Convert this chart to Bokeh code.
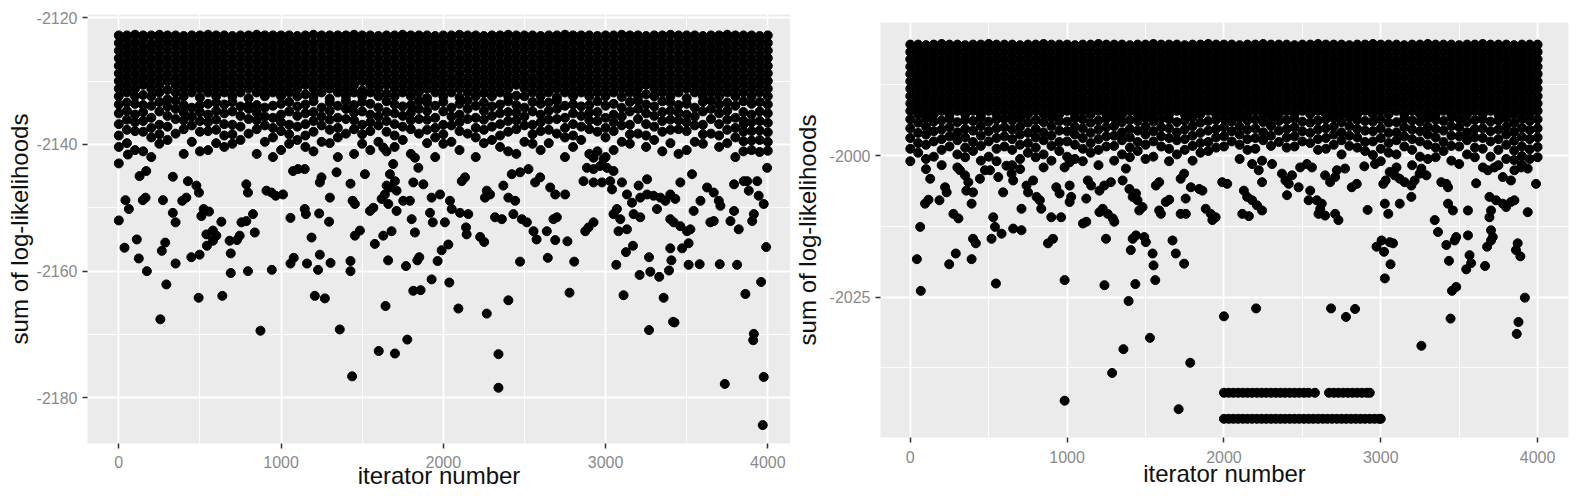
from bokeh.plotting import figure
from bokeh.layouts import row
from bokeh.models import FixedTicker, Range1d
from bokeh.embed import file_html
from bokeh.resources import INLINE

# ---------------- axes ----------------
x_ticks = [0, 1000, 2000, 3000, 4000]
x_minor = [500, 1500, 2500, 3500]
left_y_ticks = [-2180, -2160, -2140, -2120]
left_y_minor = [-2170, -2150, -2130]
right_y_ticks = [-2025, -2000]
right_y_minor = [-2037.5, -2012.5, -1987.5]

# ---------------- data: left chart (dense band, per iteration column) ----------------
left_band_q1 = {
    0: [-2122.8,-2124.0,-2125.2,-2126.4,-2127.6,-2128.8,-2130.0,-2131.2,-2132.4,-2133.7,-2135.1,-2136.8,-2138.6,-2140.4],
    50: [-2122.8,-2123.4,-2124.6,-2125.8,-2127.0,-2128.2,-2129.4,-2130.6,-2131.8,-2133.4,-2134.7,-2136.1,-2137.7,-2139.8],
    100: [-2122.7,-2124.0,-2125.2,-2126.4,-2127.6,-2128.8,-2130.0,-2131.2,-2132.4,-2133.6,-2135.3,-2136.5,-2137.9,-2140.9],
    150: [-2122.8,-2123.4,-2124.6,-2125.8,-2127.0,-2128.2,-2129.4,-2130.6,-2132.2,-2133.8,-2134.9,-2136.3,-2138.0,-2141.1],
    200: [-2122.8,-2124.1,-2125.2,-2126.4,-2127.6,-2128.8,-2130.0,-2131.2,-2132.4,-2133.9,-2135.8,-2137.4,-2138.9,-2142.0],
    250: [-2122.7,-2123.4,-2124.6,-2125.8,-2127.0,-2128.2,-2129.4,-2130.6,-2131.8,-2133.3,-2134.8,-2136.9,-2138.4,-2139.9],
    300: [-2122.8,-2124.0,-2125.2,-2126.4,-2127.6,-2128.8,-2130.0,-2131.4,-2132.9,-2134.0,-2135.5,-2137.2,-2139.3],
    350: [-2122.8,-2123.4,-2124.6,-2125.8,-2127.0,-2128.2,-2129.4,-2130.6,-2131.8,-2133.1,-2134.4,-2136.0,-2138.3],
    400: [-2122.9,-2124.0,-2125.2,-2126.4,-2127.6,-2128.8,-2130.0,-2131.2,-2132.4,-2133.8,-2135.0,-2136.2,-2137.6,-2141.5],
    450: [-2122.8,-2123.4,-2124.6,-2125.8,-2127.0,-2128.2,-2129.4,-2130.6,-2131.8,-2134.2,-2135.6,-2137.0,-2139.6],
    500: [-2122.8,-2124.0,-2125.2,-2126.4,-2127.6,-2128.8,-2130.0,-2131.2,-2132.6,-2133.8,-2134.9,-2136.3,-2138.0,-2141.1],
    550: [-2122.7,-2123.4,-2124.6,-2125.8,-2127.0,-2128.2,-2129.4,-2130.6,-2131.8,-2133.6,-2135.3,-2136.5,-2137.9,-2140.9],
    600: [-2122.8,-2124.0,-2125.2,-2126.4,-2127.6,-2128.8,-2130.0,-2131.2,-2132.4,-2133.4,-2134.7,-2136.1,-2137.7,-2139.8],
    650: [-2122.8,-2123.4,-2124.6,-2125.8,-2127.0,-2128.2,-2129.4,-2130.6,-2131.8,-2133.7,-2135.1,-2136.8,-2138.6,-2140.4],
    700: [-2122.9,-2124.0,-2125.2,-2126.4,-2127.6,-2128.8,-2130.0,-2131.2,-2132.4,-2133.3,-2134.8,-2136.9,-2138.4,-2139.9],
    750: [-2122.8,-2123.4,-2124.6,-2125.8,-2127.0,-2128.2,-2129.4,-2130.6,-2131.8,-2134.0,-2135.5,-2137.2,-2139.3],
    800: [-2122.8,-2124.0,-2125.2,-2126.4,-2127.6,-2128.8,-2130.0,-2131.2,-2132.7,-2133.9,-2134.4,-2136.0,-2138.3],
    850: [-2122.7,-2123.4,-2124.6,-2125.8,-2127.0,-2128.2,-2129.4,-2130.6,-2131.8,-2133.8,-2135.0,-2136.2,-2137.6,-2141.5],
    900: [-2122.8,-2124.0,-2125.2,-2126.4,-2127.6,-2128.8,-2130.0,-2131.2,-2132.4,-2134.2,-2135.6,-2137.0,-2139.6],
    950: [-2122.8,-2123.4,-2124.6,-2125.8,-2127.0,-2128.2,-2129.4,-2130.6,-2131.8,-2133.9,-2135.8,-2137.4,-2138.9,-2142.0],
}
left_band_q2 = {
    1000: [-2122.8,-2124.0,-2125.2,-2126.4,-2127.6,-2128.8,-2130.0,-2131.2,-2132.4,-2133.6,-2135.3,-2136.5,-2137.9,-2140.9],
    1050: [-2122.8,-2123.4,-2124.6,-2125.8,-2127.0,-2128.2,-2129.4,-2130.6,-2131.8,-2133.3,-2134.8,-2136.9,-2138.4,-2139.9],
    1100: [-2122.9,-2124.0,-2125.2,-2126.4,-2127.6,-2128.8,-2130.0,-2131.2,-2132.4,-2134.0,-2135.5,-2137.2,-2139.3],
    1150: [-2122.8,-2123.4,-2124.6,-2125.8,-2127.0,-2128.2,-2129.4,-2130.6,-2132.1,-2133.7,-2135.1,-2136.8,-2138.6,-2140.4],
    1200: [-2122.7,-2124.0,-2125.2,-2126.4,-2127.6,-2128.8,-2130.0,-2131.2,-2132.4,-2133.2,-2134.9,-2136.3,-2138.0,-2141.1],
    1250: [-2122.8,-2123.4,-2124.6,-2125.8,-2127.0,-2128.2,-2129.4,-2130.6,-2131.8,-2134.2,-2135.6,-2137.0,-2139.6],
    1300: [-2122.8,-2124.0,-2125.2,-2126.4,-2127.6,-2128.8,-2130.0,-2131.2,-2132.8,-2133.4,-2134.7,-2136.1,-2137.7,-2139.8],
    1350: [-2122.8,-2123.4,-2124.6,-2125.8,-2127.0,-2128.2,-2129.4,-2130.6,-2131.8,-2133.9,-2135.8,-2137.4,-2138.9,-2142.0],
    1400: [-2122.8,-2124.0,-2125.2,-2126.4,-2127.6,-2128.8,-2130.0,-2131.2,-2132.4,-2133.1,-2134.4,-2136.0,-2138.3],
    1450: [-2122.7,-2123.4,-2124.6,-2125.8,-2127.0,-2128.2,-2129.4,-2130.6,-2131.8,-2133.8,-2135.0,-2136.2,-2137.6,-2141.5],
    1500: [-2122.8,-2124.0,-2125.2,-2126.4,-2127.6,-2128.8,-2130.0,-2131.5,-2132.4,-2133.3,-2134.8,-2136.9,-2138.4,-2139.9],
    1550: [-2122.8,-2123.4,-2124.6,-2125.8,-2127.0,-2128.2,-2129.4,-2130.6,-2131.8,-2133.6,-2135.3,-2136.5,-2137.9,-2140.9],
    1600: [-2122.9,-2124.0,-2125.2,-2126.4,-2127.6,-2128.8,-2130.0,-2131.2,-2132.4,-2134.2,-2135.6,-2137.0,-2139.6],
    1650: [-2122.8,-2123.4,-2124.6,-2125.8,-2127.0,-2128.2,-2129.4,-2130.6,-2132.0,-2133.2,-2134.9,-2136.3,-2138.0,-2141.1],
    1700: [-2122.8,-2124.0,-2125.2,-2126.4,-2127.6,-2128.8,-2130.0,-2131.2,-2132.4,-2133.7,-2135.1,-2136.8,-2138.6,-2140.4],
    1750: [-2122.7,-2123.4,-2124.6,-2125.8,-2127.0,-2128.2,-2129.4,-2130.6,-2131.8,-2134.0,-2135.5,-2137.2,-2139.3],
    1800: [-2122.8,-2124.0,-2125.2,-2126.4,-2127.6,-2128.8,-2130.0,-2131.2,-2132.4,-2133.8,-2135.0,-2136.2,-2137.6,-2141.5],
    1850: [-2122.8,-2123.4,-2124.6,-2125.8,-2127.0,-2128.2,-2129.4,-2130.6,-2131.8,-2133.1,-2134.4,-2136.0,-2138.3],
    1900: [-2122.8,-2124.0,-2125.2,-2126.4,-2127.6,-2128.8,-2130.0,-2131.2,-2132.7,-2133.4,-2134.7,-2136.1,-2137.7,-2139.8],
    1950: [-2122.9,-2123.4,-2124.6,-2125.8,-2127.0,-2128.2,-2129.4,-2130.6,-2131.8,-2133.9,-2135.8,-2137.4,-2138.9,-2142.0],
}
left_band_q3 = {
    2000: [-2122.8,-2124.0,-2125.2,-2126.4,-2127.6,-2128.8,-2130.0,-2131.2,-2132.4,-2133.3,-2134.8,-2136.9,-2138.4,-2139.9],
    2050: [-2122.8,-2123.4,-2124.6,-2125.8,-2127.0,-2128.2,-2129.4,-2130.6,-2131.8,-2134.2,-2135.6,-2137.0,-2139.6],
    2100: [-2122.7,-2124.0,-2125.2,-2126.4,-2127.6,-2128.8,-2130.0,-2131.2,-2132.6,-2133.6,-2135.3,-2136.5,-2137.9,-2140.9],
    2150: [-2122.8,-2123.4,-2124.6,-2125.8,-2127.0,-2128.2,-2129.4,-2130.6,-2131.8,-2133.1,-2134.4,-2136.0,-2138.3],
    2200: [-2122.8,-2124.0,-2125.2,-2126.4,-2127.6,-2128.8,-2130.0,-2131.2,-2132.4,-2133.9,-2135.8,-2137.4,-2138.9,-2142.0],
    2250: [-2122.9,-2123.4,-2124.6,-2125.8,-2127.0,-2128.2,-2129.4,-2130.6,-2131.9,-2133.4,-2134.7,-2136.1,-2137.7,-2139.8],
    2300: [-2122.8,-2124.0,-2125.2,-2126.4,-2127.6,-2128.8,-2130.0,-2131.2,-2132.4,-2134.0,-2135.5,-2137.2,-2139.3],
    2350: [-2122.8,-2123.4,-2124.6,-2125.8,-2127.0,-2128.2,-2129.4,-2130.6,-2131.8,-2133.7,-2135.1,-2136.8,-2138.6,-2140.4],
    2400: [-2122.7,-2124.0,-2125.2,-2126.4,-2127.6,-2128.8,-2130.0,-2131.2,-2132.4,-2133.2,-2134.9,-2136.3,-2138.0,-2141.1],
    2450: [-2122.8,-2123.4,-2124.6,-2125.8,-2127.0,-2128.2,-2129.4,-2130.6,-2132.3,-2133.8,-2135.0,-2136.2,-2137.6,-2141.5],
    2500: [-2122.8,-2124.0,-2125.2,-2126.4,-2127.6,-2128.8,-2130.0,-2131.2,-2132.4,-2134.2,-2135.6,-2137.0,-2139.6],
    2550: [-2122.8,-2123.4,-2124.6,-2125.8,-2127.0,-2128.2,-2129.4,-2130.6,-2131.8,-2133.3,-2134.8,-2136.9,-2138.4,-2139.9],
    2600: [-2122.9,-2124.0,-2125.2,-2126.4,-2127.6,-2128.8,-2130.0,-2131.2,-2132.4,-2133.6,-2135.3,-2136.5,-2137.9,-2140.9],
    2650: [-2122.8,-2123.4,-2124.6,-2125.8,-2127.0,-2128.2,-2129.4,-2130.6,-2131.8,-2133.4,-2134.7,-2136.1,-2137.7,-2139.8],
    2700: [-2122.8,-2124.0,-2125.2,-2126.4,-2127.6,-2128.8,-2130.0,-2131.2,-2132.6,-2133.1,-2134.4,-2136.0,-2138.3],
    2750: [-2122.7,-2123.4,-2124.6,-2125.8,-2127.0,-2128.2,-2129.4,-2130.6,-2131.8,-2133.9,-2135.8,-2137.4,-2138.9,-2142.0],
    2800: [-2122.8,-2124.0,-2125.2,-2126.4,-2127.6,-2128.8,-2130.0,-2131.2,-2132.4,-2133.7,-2135.1,-2136.8,-2138.6,-2140.4],
    2850: [-2122.8,-2123.4,-2124.6,-2125.8,-2127.0,-2128.2,-2129.4,-2130.6,-2131.8,-2134.0,-2135.5,-2137.2,-2139.3],
    2900: [-2122.8,-2124.0,-2125.2,-2126.4,-2127.6,-2128.8,-2130.0,-2131.2,-2132.4,-2133.8,-2135.0,-2136.2,-2137.6,-2141.5],
    2950: [-2122.9,-2123.4,-2124.6,-2125.8,-2127.0,-2128.2,-2129.4,-2130.6,-2131.8,-2133.2,-2134.9,-2136.3,-2138.0,-2141.1],
}
left_band_q4 = {
    3000: [-2122.8,-2124.0,-2125.2,-2126.4,-2127.6,-2128.8,-2130.0,-2131.2,-2132.4,-2133.9,-2135.8,-2137.4,-2138.9,-2142.0],
    3050: [-2122.8,-2123.4,-2124.6,-2125.8,-2127.0,-2128.2,-2129.4,-2130.6,-2131.8,-2133.6,-2135.3,-2136.5,-2137.9,-2140.9],
    3100: [-2122.7,-2124.0,-2125.2,-2126.4,-2127.6,-2128.8,-2130.0,-2131.2,-2132.5,-2134.2,-2135.6,-2137.0,-2139.6],
    3150: [-2122.8,-2123.4,-2124.6,-2125.8,-2127.0,-2128.2,-2129.4,-2130.6,-2131.8,-2133.3,-2134.8,-2136.9,-2138.4,-2139.9],
    3200: [-2122.8,-2124.0,-2125.2,-2126.4,-2127.6,-2128.8,-2130.0,-2131.2,-2132.4,-2133.1,-2134.4,-2136.0,-2138.3],
    3250: [-2122.9,-2123.4,-2124.6,-2125.8,-2127.0,-2128.2,-2129.4,-2130.6,-2132.1,-2133.7,-2135.1,-2136.8,-2138.6,-2140.4],
    3300: [-2122.8,-2124.0,-2125.2,-2126.4,-2127.6,-2128.8,-2130.0,-2131.2,-2132.4,-2134.0,-2135.5,-2137.2,-2139.3],
    3350: [-2122.8,-2123.4,-2124.6,-2125.8,-2127.0,-2128.2,-2129.4,-2130.6,-2131.8,-2133.2,-2134.9,-2136.3,-2138.0,-2141.1],
    3400: [-2122.7,-2124.0,-2125.2,-2126.4,-2127.6,-2128.8,-2130.0,-2131.2,-2132.4,-2133.4,-2134.7,-2136.1,-2137.7,-2139.8],
    3450: [-2122.8,-2123.4,-2124.6,-2125.8,-2127.0,-2128.2,-2129.4,-2130.6,-2131.8,-2133.8,-2135.0,-2136.2,-2137.6,-2141.5],
    3500: [-2122.8,-2124.0,-2125.2,-2126.4,-2127.6,-2128.8,-2130.0,-2131.2,-2132.7,-2133.6,-2135.3,-2136.5,-2137.9,-2140.9],
    3550: [-2122.8,-2123.4,-2124.6,-2125.8,-2127.0,-2128.2,-2129.4,-2130.6,-2131.8,-2134.2,-2135.6,-2137.0,-2139.6],
    3600: [-2122.9,-2124.0,-2125.2,-2126.4,-2127.6,-2128.8,-2130.0,-2131.2,-2132.4,-2133.3,-2134.8,-2136.9,-2138.4,-2139.9],
    3650: [-2122.8,-2123.4,-2124.6,-2125.8,-2127.0,-2128.2,-2129.4,-2130.6,-2131.8,-2133.1,-2134.4,-2136.0,-2138.3],
    3700: [-2122.8,-2124.0,-2125.2,-2126.4,-2127.6,-2128.8,-2130.0,-2131.2,-2132.4,-2133.7,-2135.1,-2136.8,-2138.6,-2140.4],
    3750: [-2122.7,-2123.4,-2124.6,-2125.8,-2127.0,-2128.2,-2129.4,-2130.6,-2131.8,-2133.4,-2134.7,-2136.1,-2137.7,-2139.8],
    3800: [-2122.8,-2124.0,-2125.2,-2126.4,-2127.6,-2128.8,-2130.0,-2131.2,-2132.4,-2133.9,-2135.8,-2137.4,-2138.9,-2142.0],
    3850: [-2122.8,-2123.4,-2124.6,-2125.8,-2127.0,-2128.2,-2129.4,-2130.6,-2131.8,-2133.2,-2134.9,-2136.3,-2138.0,-2139.5,-2141.1],
    3900: [-2122.8,-2124.0,-2125.2,-2126.4,-2127.6,-2128.8,-2130.0,-2131.2,-2132.4,-2133.6,-2135.3,-2136.5,-2137.9,-2139.4,-2140.9],
    3950: [-2122.9,-2123.4,-2124.6,-2125.8,-2127.0,-2128.2,-2129.4,-2130.6,-2131.8,-2133.3,-2134.8,-2136.3,-2137.8,-2139.3,-2141.2],
    4000: [-2122.8,-2124.0,-2125.2,-2126.4,-2127.6,-2128.8,-2130.0,-2131.2,-2132.4,-2133.7,-2135.1,-2136.6,-2138.1,-2139.6,-2141.0],
}

left_scatter_iter = [
    123,173,265,293,350,447,498,492,256,638,690,690,796,873,943,1058,1078,1160,1208,1228,1239,1270,1305,1362,1428,1428,1438,1602,1702,1644,1660,
    1778,1770,1840,1852,1815,1860,1928,1965,1990,2037,2093,2268,2227,2252,2340,2340,2401,2473,2575,2644,2690,2765,2778,2807,
    3066,3111,3126,3169,3210,3268,3276,3268,3331,3358,3391,3406,3399,3416,3425,3472,3512,3512,3580,3704,3811,3735,3862,3914,3910,3959,3975,3969,3990,
    0,41,62,0,111,35,148,165,272,333,391,416,350,286,169,128,56,333,426,478,494,523,556,509,540,580,601,543,580,632,683,728,745,756,786,827,838,796,786,
    910,941,967,1012,1074,1105,1146,1146,1153,1058,1188,1235,1296,1239,1249,1301,1342,1428,1441,1455,1486,1455,1548,1569,1578,1517,1620,1640,1671,1712,
    1630,1691,1671,1825,1846,1702,1651,1661,1712,1753,1794,1815,1877,1805,1825,1681,1630,1928,1980,1918,1935,2041,2052,2010,2031,2103,2154,2140,2144,
    2114,2134,2268,2257,2288,2319,2361,2370,2401,2443,2422,2473,2525,2432,2484,2515,2556,2566,2597,2659,2690,2679,2700,2638,2751,2875,2895,2926,
    2885,2926,2967,3009,3049,2864,2926,2978,3029,2926,2988,3040,3101,3132,3049,3070,3091,3080,3132,3163,3173,3214,3256,3296,3338,3369,3214,3256,3204,
    3399,3430,3317,3399,3420,3461,3502,3523,3461,3533,3543,3585,3646,3667,3626,3667,3698,3708,3770,3792,3821,3792,3852,3873,3883,3935,3944,3904,3914,
    3975,3996,3852,
]
left_scatter_ll = [
    -2158.0,-2160.0,-2156.8,-2162.1,-2158.8,-2157.8,-2157.4,-2164.2,-2167.6,-2163.9,-2157.2,-2160.3,-2160.0,-2169.4,-2159.8,-2158.8,-2157.9,-2158.8,-2163.9,-2159.8,-2157.4,-2164.3,-2158.7,-2169.2,-2158.4,-2160.0,-2176.6,-2172.6,-2173.0,-2165.5,-2158.3,
    -2170.8,-2159.2,-2158.3,-2157.8,-2163.1,-2163.0,-2161.3,-2158.4,-2156.7,-2161.8,-2165.9,-2166.7,-2154.6,-2155.4,-2173.1,-2178.4,-2164.6,-2158.5,-2155.0,-2157.9,-2155.1,-2155.3,-2163.4,-2158.5,
    -2159.0,-2163.8,-2157.0,-2156.0,-2160.6,-2157.8,-2160.1,-2169.3,-2160.9,-2164.2,-2159.9,-2158.3,-2156.4,-2168.0,-2168.1,-2156.4,-2155.6,-2159.0,-2158.9,-2158.9,-2159.0,-2177.8,-2163.6,-2169.9,-2170.9,-2161.7,-2176.7,-2184.3,-2156.2,
    -2143.0,-2148.8,-2150.2,-2152.0,-2155.0,-2156.3,-2148.8,-2148.4,-2148.8,-2150.8,-2148.9,-2148.4,-2152.3,-2155.5,-2144.2,-2145.0,-2141.6,-2145.1,-2145.8,-2146.5,-2147.6,-2150.2,-2150.6,-2151.3,-2154.2,-2153.6,-2154.4,-2156.0,-2155.2,-2152.2,-2155.2,-2155.1,-2154.4,-2152.3,-2152.1,-2151.0,-2153.9,-2147.6,-2146.3,
    -2147.3,-2147.6,-2148.1,-2147.9,-2144.2,-2143.9,-2143.9,-2150.2,-2151.0,-2151.6,-2154.7,-2150.9,-2152.2,-2146.0,-2145.2,-2148.4,-2144.4,-2146.2,-2148.9,-2149.4,-2153.6,-2154.4,-2150.5,-2150.0,-2155.7,-2144.7,-2148.6,-2147.9,-2146.8,-2147.3,
    -2140.5,-2143.1,-2144.7,-2142.1,-2143.7,-2145.8,-2146.5,-2149.4,-2150.5,-2148.9,-2148.9,-2146.0,-2146.3,-2151.8,-2153.9,-2153.7,-2154.4,-2148.4,-2147.9,-2150.8,-2152.3,-2148.9,-2150.2,-2152.3,-2155.8,-2150.8,-2151.0,-2153.1,-2154.2,
    -2145.8,-2145.2,-2147.3,-2148.4,-2147.9,-2151.5,-2151.8,-2146.5,-2148.4,-2148.9,-2144.7,-2144.4,-2143.9,-2151.0,-2151.8,-2152.3,-2153.7,-2146.0,-2145.2,-2146.8,-2147.9,-2151.8,-2151.5,-2153.7,-2147.9,-2153.7,-2153.1,-2152.3,
    -2143.7,-2143.9,-2143.4,-2143.7,-2144.2,-2145.8,-2146.0,-2146.0,-2145.8,-2142.1,-2142.3,-2147.1,-2146.0,-2147.9,-2151.0,-2150.2,-2151.8,-2153.7,-2153.4,-2149.2,-2151.0,-2148.4,-2147.9,-2148.1,-2148.4,-2148.9,-2151.5,-2145.5,-2146.5,
    -2147.9,-2148.6,-2150.2,-2151.8,-2152.3,-2152.9,-2153.7,-2153.4,-2146.0,-2144.7,-2150.5,-2148.9,-2152.3,-2152.1,-2146.8,-2147.6,-2148.9,-2149.7,-2152.1,-2150.5,-2153.4,-2146.3,-2145.8,-2145.8,-2147.3,-2145.8,-2148.1,-2152.1,-2151.0,
    -2149.4,-2143.7,-2136.8,
]

# ---------------- data: right chart ----------------
right_band_q1 = {
    0: [-1980.4,-1981.7,-1983.0,-1984.3,-1985.6,-1986.9,-1988.2,-1989.5,-1990.8,-1992.1,-1993.6,-1995.2,-1996.9,-1998.8,-2001.0],
    50: [-1980.4,-1981.0,-1982.3,-1983.6,-1984.9,-1986.2,-1987.5,-1988.8,-1990.1,-1991.4,-1992.7,-1994.2,-1996.0,-1997.8,-1999.5],
    100: [-1980.5,-1981.7,-1983.0,-1984.3,-1985.6,-1986.9,-1988.2,-1989.5,-1990.8,-1992.1,-1993.4,-1994.9,-1996.3,-1998.1,-2000.6,-2002.4],
    150: [-1980.4,-1981.0,-1982.3,-1983.6,-1984.9,-1986.2,-1987.5,-1988.8,-1990.1,-1991.4,-1992.7,-1994.0,-1995.7,-1997.5,-2000.2],
    200: [-1980.3,-1981.7,-1983.0,-1984.3,-1985.6,-1986.9,-1988.2,-1989.5,-1990.8,-1992.1,-1993.8,-1995.4,-1997.1,-1999.0,-2001.7],
    250: [-1980.4,-1981.0,-1982.3,-1983.6,-1984.9,-1986.2,-1987.5,-1988.8,-1990.1,-1991.4,-1992.7,-1993.5,-1995.0,-1996.6,-1998.4],
    300: [-1980.4,-1981.7,-1983.0,-1984.3,-1985.6,-1986.9,-1988.2,-1989.5,-1990.8,-1992.1,-1994.1,-1995.9,-1997.3,-1999.8,-2002.1],
    350: [-1980.5,-1981.0,-1982.3,-1983.6,-1984.9,-1986.2,-1987.5,-1988.8,-1990.1,-1991.4,-1992.7,-1993.7,-1995.3,-1996.8,-1998.6,-2000.3],
    400: [-1980.4,-1981.7,-1983.0,-1984.3,-1985.6,-1986.9,-1988.2,-1989.5,-1990.8,-1992.1,-1993.9,-1995.6,-1997.6,-1999.2],
    450: [-1980.4,-1981.0,-1982.3,-1983.6,-1984.9,-1986.2,-1987.5,-1988.8,-1990.1,-1991.4,-1992.7,-1993.3,-1994.8,-1996.5,-1998.3,-2000.9],
    500: [-1980.3,-1981.7,-1983.0,-1984.3,-1985.6,-1986.9,-1988.2,-1989.5,-1990.8,-1992.1,-1994.0,-1995.7,-1997.5,-2000.2],
    550: [-1980.4,-1981.0,-1982.3,-1983.6,-1984.9,-1986.2,-1987.5,-1988.8,-1990.1,-1991.4,-1992.7,-1993.6,-1995.2,-1996.9,-1998.8,-2001.0],
    600: [-1980.4,-1981.7,-1983.0,-1984.3,-1985.6,-1986.9,-1988.2,-1989.5,-1990.8,-1992.1,-1993.5,-1995.0,-1996.6,-1998.4],
    650: [-1980.4,-1981.0,-1982.3,-1983.6,-1984.9,-1986.2,-1987.5,-1988.8,-1990.1,-1991.4,-1992.7,-1993.8,-1995.4,-1997.1,-1999.0,-2001.7],
    700: [-1980.5,-1981.7,-1983.0,-1984.3,-1985.6,-1986.9,-1988.2,-1989.5,-1990.8,-1992.1,-1993.4,-1994.9,-1996.3,-1998.1,-2000.6,-2002.4],
    750: [-1980.4,-1981.0,-1982.3,-1983.6,-1984.9,-1986.2,-1987.5,-1988.8,-1990.1,-1991.4,-1992.7,-1994.2,-1996.0,-1997.8,-1999.5],
    800: [-1980.4,-1981.7,-1983.0,-1984.3,-1985.6,-1986.9,-1988.2,-1989.5,-1990.8,-1992.1,-1993.7,-1995.3,-1996.8,-1998.6,-2000.3],
    850: [-1980.3,-1981.0,-1982.3,-1983.6,-1984.9,-1986.2,-1987.5,-1988.8,-1990.1,-1991.4,-1992.7,-1994.1,-1995.9,-1997.3,-1999.8,-2002.1],
    900: [-1980.4,-1981.7,-1983.0,-1984.3,-1985.6,-1986.9,-1988.2,-1989.5,-1990.8,-1992.1,-1993.3,-1994.8,-1996.5,-1998.3,-2000.9],
    950: [-1980.4,-1981.0,-1982.3,-1983.6,-1984.9,-1986.2,-1987.5,-1988.8,-1990.1,-1991.4,-1992.7,-1993.9,-1995.6,-1997.6,-1999.2],
}
right_band_q2 = {
    1000: [-1980.4,-1981.7,-1983.0,-1984.3,-1985.6,-1986.9,-1988.2,-1989.5,-1990.8,-1992.1,-1994.0,-1995.7,-1997.5,-2000.2],
    1050: [-1980.5,-1981.0,-1982.3,-1983.6,-1984.9,-1986.2,-1987.5,-1988.8,-1990.1,-1991.4,-1992.7,-1993.4,-1994.9,-1996.3,-1998.1,-2000.6],
    1100: [-1980.4,-1981.7,-1983.0,-1984.3,-1985.6,-1986.9,-1988.2,-1989.5,-1990.8,-1992.1,-1993.6,-1995.2,-1996.9,-1998.8,-2001.0],
    1150: [-1980.4,-1981.0,-1982.3,-1983.6,-1984.9,-1986.2,-1987.5,-1988.8,-1990.1,-1991.4,-1992.7,-1994.2,-1996.0,-1997.8,-1999.5],
    1200: [-1980.3,-1981.7,-1983.0,-1984.3,-1985.6,-1986.9,-1988.2,-1989.5,-1990.8,-1992.1,-1993.8,-1995.4,-1997.1,-1999.0,-2001.7],
    1250: [-1980.4,-1981.0,-1982.3,-1983.6,-1984.9,-1986.2,-1987.5,-1988.8,-1990.1,-1991.4,-1992.7,-1993.5,-1995.0,-1996.6,-1998.4],
    1300: [-1980.4,-1981.7,-1983.0,-1984.3,-1985.6,-1986.9,-1988.2,-1989.5,-1990.8,-1992.1,-1993.3,-1994.8,-1996.5,-1998.3,-2000.9],
    1350: [-1980.4,-1981.0,-1982.3,-1983.6,-1984.9,-1986.2,-1987.5,-1988.8,-1990.1,-1991.4,-1992.7,-1994.1,-1995.9,-1997.3,-1999.8],
    1400: [-1980.5,-1981.7,-1983.0,-1984.3,-1985.6,-1986.9,-1988.2,-1989.5,-1990.8,-1992.1,-1993.7,-1995.3,-1996.8,-1998.6,-2000.3],
    1450: [-1980.4,-1981.0,-1982.3,-1983.6,-1984.9,-1986.2,-1987.5,-1988.8,-1990.1,-1991.4,-1992.7,-1993.9,-1995.6,-1997.6,-1999.2],
    1500: [-1980.4,-1981.7,-1983.0,-1984.3,-1985.6,-1986.9,-1988.2,-1989.5,-1990.8,-1992.1,-1993.4,-1994.9,-1996.3,-1998.1,-2000.6],
    1550: [-1980.3,-1981.0,-1982.3,-1983.6,-1984.9,-1986.2,-1987.5,-1988.8,-1990.1,-1991.4,-1992.7,-1994.0,-1995.7,-1997.5,-2000.2],
    1600: [-1980.4,-1981.7,-1983.0,-1984.3,-1985.6,-1986.9,-1988.2,-1989.5,-1990.8,-1992.1,-1993.5,-1995.0,-1996.6,-1998.4],
    1650: [-1980.4,-1981.0,-1982.3,-1983.6,-1984.9,-1986.2,-1987.5,-1988.8,-1990.1,-1991.4,-1992.7,-1993.6,-1995.2,-1996.9,-1998.8,-2001.0],
    1700: [-1980.4,-1981.7,-1983.0,-1984.3,-1985.6,-1986.9,-1988.2,-1989.5,-1990.8,-1992.1,-1994.1,-1995.9,-1997.3,-1999.8],
    1750: [-1980.5,-1981.0,-1982.3,-1983.6,-1984.9,-1986.2,-1987.5,-1988.8,-1990.1,-1991.4,-1992.7,-1993.8,-1995.4,-1997.1,-1999.0],
    1800: [-1980.4,-1981.7,-1983.0,-1984.3,-1985.6,-1986.9,-1988.2,-1989.5,-1990.8,-1992.1,-1993.3,-1994.8,-1996.5,-1998.3,-2000.9],
    1850: [-1980.4,-1981.0,-1982.3,-1983.6,-1984.9,-1986.2,-1987.5,-1988.8,-1990.1,-1991.4,-1992.7,-1994.2,-1996.0,-1997.8,-1999.5],
    1900: [-1980.3,-1981.7,-1983.0,-1984.3,-1985.6,-1986.9,-1988.2,-1989.5,-1990.8,-1992.1,-1993.9,-1995.6,-1997.6,-1999.2],
    1950: [-1980.4,-1981.0,-1982.3,-1983.6,-1984.9,-1986.2,-1987.5,-1988.8,-1990.1,-1991.4,-1992.7,-1993.7,-1995.3,-1996.8,-1998.6],
}
right_band_q3 = {
    2000: [-1980.4,-1981.7,-1983.0,-1984.3,-1985.6,-1986.9,-1988.2,-1989.5,-1990.8,-1992.1,-1993.5,-1995.0,-1996.6,-1998.4],
    2050: [-1980.4,-1981.0,-1982.3,-1983.6,-1984.9,-1986.2,-1987.5,-1988.8,-1990.1,-1991.4,-1992.7,-1994.0,-1995.7,-1997.5],
    2100: [-1980.5,-1981.7,-1983.0,-1984.3,-1985.6,-1986.9,-1988.2,-1989.5,-1990.8,-1992.1,-1993.4,-1994.9,-1996.3,-1998.1,-2000.6],
    2150: [-1980.4,-1981.0,-1982.3,-1983.6,-1984.9,-1986.2,-1987.5,-1988.8,-1990.1,-1991.4,-1992.7,-1993.8,-1995.4,-1997.1,-1999.0],
    2200: [-1980.4,-1981.7,-1983.0,-1984.3,-1985.6,-1986.9,-1988.2,-1989.5,-1990.8,-1992.1,-1993.6,-1995.2,-1996.9,-1998.8],
    2250: [-1980.3,-1981.0,-1982.3,-1983.6,-1984.9,-1986.2,-1987.5,-1988.8,-1990.1,-1991.4,-1992.7,-1994.1,-1995.9,-1997.3],
    2300: [-1980.4,-1981.7,-1983.0,-1984.3,-1985.6,-1986.9,-1988.2,-1989.5,-1990.8,-1992.1,-1993.3,-1994.8,-1996.5,-1998.3],
    2350: [-1980.4,-1981.0,-1982.3,-1983.6,-1984.9,-1986.2,-1987.5,-1988.8,-1990.1,-1991.4,-1992.7,-1993.9,-1995.6,-1997.6],
    2400: [-1980.4,-1981.7,-1983.0,-1984.3,-1985.6,-1986.9,-1988.2,-1989.5,-1990.8,-1992.1,-1993.7,-1995.3,-1996.8,-1998.6],
    2450: [-1980.5,-1981.0,-1982.3,-1983.6,-1984.9,-1986.2,-1987.5,-1988.8,-1990.1,-1991.4,-1992.7,-1993.5,-1995.0,-1996.6,-1998.4],
    2500: [-1980.4,-1981.7,-1983.0,-1984.3,-1985.6,-1986.9,-1988.2,-1989.5,-1990.8,-1992.1,-1994.0,-1995.7,-1997.5],
    2550: [-1980.4,-1981.0,-1982.3,-1983.6,-1984.9,-1986.2,-1987.5,-1988.8,-1990.1,-1991.4,-1992.7,-1994.2,-1996.0,-1997.8],
    2600: [-1980.3,-1981.7,-1983.0,-1984.3,-1985.6,-1986.9,-1988.2,-1989.5,-1990.8,-1992.1,-1993.8,-1995.4,-1997.1,-1999.0],
    2650: [-1980.4,-1981.0,-1982.3,-1983.6,-1984.9,-1986.2,-1987.5,-1988.8,-1990.1,-1991.4,-1992.7,-1993.6,-1995.2,-1996.9,-1998.8],
    2700: [-1980.4,-1981.7,-1983.0,-1984.3,-1985.6,-1986.9,-1988.2,-1989.5,-1990.8,-1992.1,-1993.4,-1994.9,-1996.3,-1998.1],
    2750: [-1980.4,-1981.0,-1982.3,-1983.6,-1984.9,-1986.2,-1987.5,-1988.8,-1990.1,-1991.4,-1992.7,-1994.1,-1995.9,-1997.3,-1999.8],
    2800: [-1980.5,-1981.7,-1983.0,-1984.3,-1985.6,-1986.9,-1988.2,-1989.5,-1990.8,-1992.1,-1993.3,-1994.8,-1996.5,-1998.3],
    2850: [-1980.4,-1981.0,-1982.3,-1983.6,-1984.9,-1986.2,-1987.5,-1988.8,-1990.1,-1991.4,-1992.7,-1993.7,-1995.3,-1996.8,-1998.6],
    2900: [-1980.4,-1981.7,-1983.0,-1984.3,-1985.6,-1986.9,-1988.2,-1989.5,-1990.8,-1992.1,-1993.9,-1995.6,-1997.6,-1999.2],
    2950: [-1980.3,-1981.0,-1982.3,-1983.6,-1984.9,-1986.2,-1987.5,-1988.8,-1990.1,-1991.4,-1992.7,-1994.0,-1995.7,-1997.5,-1999.9],
}
right_band_q4 = {
    3000: [-1980.4,-1981.7,-1983.0,-1984.3,-1985.6,-1986.9,-1988.2,-1989.5,-1990.8,-1992.1,-1993.6,-1995.2,-1996.9,-1998.8,-2001.0],
    3050: [-1980.4,-1981.0,-1982.3,-1983.6,-1984.9,-1986.2,-1987.5,-1988.8,-1990.1,-1991.4,-1992.7,-1994.2,-1996.0,-1997.8,-1999.5],
    3100: [-1980.4,-1981.7,-1983.0,-1984.3,-1985.6,-1986.9,-1988.2,-1989.5,-1990.8,-1992.1,-1994.1,-1995.9,-1997.3,-1999.8,-2002.1],
    3150: [-1980.5,-1981.0,-1982.3,-1983.6,-1984.9,-1986.2,-1987.5,-1988.8,-1990.1,-1991.4,-1992.7,-1993.5,-1995.0,-1996.6,-1998.4],
    3200: [-1980.4,-1981.7,-1983.0,-1984.3,-1985.6,-1986.9,-1988.2,-1989.5,-1990.8,-1992.1,-1993.8,-1995.4,-1997.1,-1999.0,-2001.7],
    3250: [-1980.4,-1981.0,-1982.3,-1983.6,-1984.9,-1986.2,-1987.5,-1988.8,-1990.1,-1991.4,-1992.7,-1994.0,-1995.7,-1997.5,-2000.2],
    3300: [-1980.3,-1981.7,-1983.0,-1984.3,-1985.6,-1986.9,-1988.2,-1989.5,-1990.8,-1992.1,-1993.4,-1994.9,-1996.3,-1998.1,-2000.6],
    3350: [-1980.4,-1981.0,-1982.3,-1983.6,-1984.9,-1986.2,-1987.5,-1988.8,-1990.1,-1991.4,-1992.7,-1993.7,-1995.3,-1996.8,-1998.6,-2000.3],
    3400: [-1980.4,-1981.7,-1983.0,-1984.3,-1985.6,-1986.9,-1988.2,-1989.5,-1990.8,-1992.1,-1993.9,-1995.6,-1997.6,-1999.2],
    3450: [-1980.4,-1981.0,-1982.3,-1983.6,-1984.9,-1986.2,-1987.5,-1988.8,-1990.1,-1991.4,-1992.7,-1993.3,-1994.8,-1996.5,-1998.3,-2000.9],
    3500: [-1980.5,-1981.7,-1983.0,-1984.3,-1985.6,-1986.9,-1988.2,-1989.5,-1990.8,-1992.1,-1993.5,-1995.0,-1996.6,-1998.4,-2001.5],
    3550: [-1980.4,-1981.0,-1982.3,-1983.6,-1984.9,-1986.2,-1987.5,-1988.8,-1990.1,-1991.4,-1992.7,-1994.1,-1995.9,-1997.3,-1999.8],
    3600: [-1980.4,-1981.7,-1983.0,-1984.3,-1985.6,-1986.9,-1988.2,-1989.5,-1990.8,-1992.1,-1993.7,-1995.3,-1996.8,-1998.6,-2000.3],
    3650: [-1980.3,-1981.0,-1982.3,-1983.6,-1984.9,-1986.2,-1987.5,-1988.8,-1990.1,-1991.4,-1992.7,-1993.6,-1995.2,-1996.9,-1998.8],
    3700: [-1980.4,-1981.7,-1983.0,-1984.3,-1985.6,-1986.9,-1988.2,-1989.5,-1990.8,-1992.1,-1994.0,-1995.7,-1997.5,-2000.2],
    3750: [-1980.4,-1981.0,-1982.3,-1983.6,-1984.9,-1986.2,-1987.5,-1988.8,-1990.1,-1991.4,-1992.7,-1993.8,-1995.4,-1997.1,-1999.0,-2001.7],
    3800: [-1980.4,-1981.7,-1983.0,-1984.3,-1985.6,-1986.9,-1988.2,-1989.5,-1990.8,-1992.1,-1993.4,-1994.9,-1996.3,-1998.1,-2000.6],
    3850: [-1980.5,-1981.0,-1982.3,-1983.6,-1984.9,-1986.2,-1987.5,-1988.8,-1990.1,-1991.4,-1992.7,-1994.2,-1995.8,-1997.4,-1999.1,-2000.8],
    3900: [-1980.4,-1981.7,-1983.0,-1984.3,-1985.6,-1986.9,-1988.2,-1989.5,-1990.8,-1992.1,-1993.5,-1995.1,-1996.7,-1998.4,-2000.1,-2001.6],
    3950: [-1980.4,-1981.0,-1982.3,-1983.6,-1984.9,-1986.2,-1987.5,-1988.8,-1990.1,-1991.4,-1992.7,-1993.9,-1995.5,-1997.1,-1998.9,-2000.6],
    4000: [-1980.4,-1981.7,-1983.0,-1984.3,-1985.6,-1986.9,-1988.2,-1989.5,-1990.8,-1992.1,-1993.6,-1995.2,-1996.8,-1998.5,-2000.3],
}

right_scatter_iter = [
    42,67,248,290,391,546,984,984,1238,1359,1287,1392,1435,1406,1528,1545,1551,1562,1693,1746,1711,1785,
    2000,2205,2683,2778,2836,2973,3021,3057,3078,3062,3026,3259,3418,3471,3435,3454,3481,3445,3566,3576,3545,3665,3678,3703,3862,3890,3919,3878,3867,
    63,94,116,127,186,222,232,275,307,317,349,370,357,400,391,444,476,400,418,529,540,518,582,508,561,592,656,646,613,656,709,709,741,783,751,805,826,835,
    878,910,899,962,931,952,1016,1026,1016,1016,984,1101,1122,1132,1153,1122,1248,1206,1227,1259,1291,1301,1206,1237,1279,1354,1375,1397,1418,1449,1439,
    1418,1439,1492,1502,1460,1481,1566,1587,1598,1587,1672,1629,1651,1724,1746,1756,1724,
    1757,1789,1842,1863,1884,1916,1947,1926,1989,2021,2127,2148,2180,2211,2243,2117,2159,2180,2222,2243,2243,2307,2370,2392,2413,2434,2402,2476,2550,2540,
    2614,2624,2486,2529,2561,2592,2603,2645,2709,2730,2645,2677,2709,2720,2772,2815,2847,2895,2963,2916,3016,3031,3026,3048,3057,3089,3121,3152,3195,3216,
    3248,3121,3195,3005,3259,3291,3344,3365,3386,3418,3429,3429,3460,3481,3556,3556,3608,3651,3683,3725,3693,3735,3778,3799,3830,3852,3703,3693,3703,3714,
    3778,3830,3852,3894,3937,3873,3937,3990,
]
right_scatter_ll = [
    -2018.3,-2023.9,-2019.2,-2017.3,-2018.3,-2022.6,-2022.0,-2043.3,-2022.9,-2034.2,-2038.4,-2025.7,-2022.7,-2016.7,-2032.2,-2017.3,-2019.4,-2022.0,-2017.3,-2019.1,-2044.8,-2036.6,
    -2028.4,-2027.0,-2027.0,-2028.5,-2027.1,-2016.1,-2017.0,-2015.3,-2015.5,-2019.2,-2021.7,-2033.6,-2015.8,-2015.0,-2018.6,-2023.9,-2023.2,-2028.8,-2017.6,-2019.0,-2020.1,-2019.5,-2016.1,-2015.0,-2016.7,-2017.8,-2025.1,-2029.4,-2031.5,
    -2012.6,-2008.5,-2007.8,-2004.1,-2007.9,-2005.6,-2006.5,-2010.3,-2011.1,-2002.6,-2003.5,-2004.7,-2006.2,-2006.5,-2008.5,-2004.1,-2002.6,-2014.7,-2015.5,-2010.9,-2012.6,-2014.7,-2013.8,-2002.6,-2003.8,-2006.5,-2004.4,-2003.2,-2001.8,-2012.9,-2013.2,-2009.4,-2005.3,-2004.4,-2006.5,-2007.3,-2007.9,-2009.4,
    -2015.5,-2014.7,-2010.9,-2010.9,-2005.6,-2006.7,-2005.3,-2007.3,-2008.2,-2001.2,-2002.1,-2012.0,-2011.7,-2004.4,-2005.3,-2007.6,-2014.7,-2010.0,-2009.4,-2010.3,-2011.1,-2011.7,-2006.2,-2005.3,-2004.7,-2004.4,-2002.3,-2005.9,-2007.3,-2007.9,-2006.7,
    -2014.7,-2014.1,-2014.4,-2015.3,-2009.7,-2009.1,-2005.3,-2004.7,-2010.3,-2009.7,-2015.0,-2008.2,-2007.8,-2004.1,-2003.2,-2007.6,-2010.3,
    -2010.3,-2005.6,-2005.9,-2006.2,-2009.4,-2010.3,-2010.9,-2011.4,-2004.7,-2005.0,-2006.2,-2007.3,-2007.9,-2008.8,-2009.7,-2010.3,-2010.7,-2001.5,-2002.6,-2004.7,-2000.9,-2001.5,-2003.2,-2004.4,-2005.0,-2003.5,-2007.0,-2005.6,-2006.2,-2007.9,
    -2009.4,-2008.5,-2002.1,-2001.5,-2002.1,-2007.9,-2010.3,-2010.6,-2010.3,-2011.4,-2003.5,-2004.7,-2003.8,-2002.6,-2002.3,-2005.6,-2005.0,-2001.9,-2001.5,-2009.6,-2005.0,-2004.4,-2008.5,-2010.3,-2002.9,-2003.5,-2004.1,-2004.7,-2005.3,-2004.4,
    -2003.2,-2008.5,-2007.3,-2015.0,-2002.3,-2003.5,-2011.4,-2013.5,-2004.7,-2005.0,-2005.6,-2008.5,-2009.7,-2014.4,-2014.1,-2009.7,-2004.9,-2002.1,-2002.6,-2002.1,-2007.3,-2007.9,-2008.5,-2009.1,-2008.2,-2007.9,-2009.7,-2010.9,-2013.2,-2014.4,
    -2003.8,-2004.4,-2002.6,-2002.1,-2002.3,-2015.5,-2010.0,-2005.0,
]

# two horizontal runs of stuck iterations in the right chart
right_run_upper_iter = [2000,2030,2060,2090,2120,2150,2180,2210,2240,2270,2300,2330,2360,2390,2420,2450,2480,2510,2540,2580,
                        2670,2700,2730,2760,2790,2820,2850,2880,2910,2930]
right_run_upper_ll = -2041.9
right_run_lower_iter = [2000,2030,2060,2090,2120,2150,2180,2210,2240,2270,2300,2330,2360,2390,2420,2450,2480,2510,2540,2570,
                        2600,2630,2660,2690,2720,2750,2780,2810,2840,2870,2900,2930,2960,2990,3000]
right_run_lower_ll = -2046.5

x_title = "iterator number"
y_title = "sum of log-likelihoods"


def band_points(*bands):
    xs, ys = [], []
    for band in bands:
        for it, vals in band.items():
            for v in vals:
                xs.append(it)
                ys.append(v)
    return xs, ys


FONT = "Liberation Sans"


def style(p, yt, ym, ylab_standoff, xlbl_standoff, xlab_standoff):
    try:
        p.frame_align = False
    except Exception:
        pass
    p.background_fill_color = "#EBEBEB"
    p.border_fill_color = "white"
    p.outline_line_color = None
    p.xaxis.ticker = FixedTicker(ticks=x_ticks, minor_ticks=x_minor)
    p.yaxis.ticker = FixedTicker(ticks=yt, minor_ticks=ym)
    p.xgrid.ticker = FixedTicker(ticks=x_ticks, minor_ticks=x_minor)
    p.ygrid.ticker = FixedTicker(ticks=yt, minor_ticks=ym)
    for g in (p.xgrid[0], p.ygrid[0]):
        g.grid_line_color = "white"
        g.grid_line_width = 1.8
        g.minor_grid_line_color = "white"
        g.minor_grid_line_width = 0.9
    for ax in (p.xaxis[0], p.yaxis[0]):
        ax.axis_line_color = None
        ax.major_tick_line_color = "#333333"
        ax.major_tick_line_width = 1.5
        ax.major_tick_out = 5
        ax.major_tick_in = 0
        ax.minor_tick_line_color = None
        ax.major_label_text_font = FONT
        ax.major_label_text_font_size = "16px"
        ax.major_label_text_color = "#8a8a8a"
        ax.axis_label_text_font = FONT
        ax.axis_label_text_font_size = "24px"
        ax.axis_label_text_font_style = "normal"
        ax.axis_label_text_color = "#111111"
    p.yaxis[0].major_label_overrides = {t: str(t) for t in yt}
    p.yaxis.axis_label = y_title
    p.xaxis.axis_label = x_title
    p.yaxis[0].major_label_standoff = 5
    p.yaxis[0].axis_label_standoff = ylab_standoff
    p.xaxis[0].major_label_standoff = xlbl_standoff
    p.xaxis[0].axis_label_standoff = xlab_standoff
    try:
        p.xaxis[0].axis_label_background_fill_color = "white"
    except Exception:
        pass


# ---------------- left chart ----------------
p1 = figure(width=790, height=494, output_backend="svg", toolbar_location=None,
            x_range=Range1d(-193, 4140), y_range=Range1d(-2187.2, -2119.5),
            min_border_left=87, min_border_right=0, min_border_top=14, min_border_bottom=51)
style(p1, left_y_ticks, left_y_minor, 1, 7, -9)
lx, ly = band_points(left_band_q1, left_band_q2, left_band_q3, left_band_q4)
p1.scatter(lx, ly, size=9, color="black", marker="circle")
p1.scatter(left_scatter_iter, left_scatter_ll, size=9, color="black", marker="circle")

# ---------------- right chart ----------------
p2 = figure(width=796, height=494, output_backend="svg", toolbar_location=None,
            x_range=Range1d(-190, 4197), y_range=Range1d(-2049.8, -1976.5),
            min_border_left=88, min_border_right=18, min_border_top=22, min_border_bottom=57)
style(p2, right_y_ticks, right_y_minor, 6, 8, -6)
rx, ry = band_points(right_band_q1, right_band_q2, right_band_q3, right_band_q4)
p2.scatter(rx, ry, size=9, color="black", marker="circle")
p2.scatter(right_scatter_iter, right_scatter_ll, size=9, color="black", marker="circle")
p2.scatter(right_run_upper_iter, [right_run_upper_ll] * len(right_run_upper_iter), size=9, color="black", marker="circle")
p2.scatter(right_run_lower_iter, [right_run_lower_ll] * len(right_run_lower_iter), size=9, color="black", marker="circle")

layout = row(p1, p2)
open("out.html", "w").write(file_html(layout, INLINE))
